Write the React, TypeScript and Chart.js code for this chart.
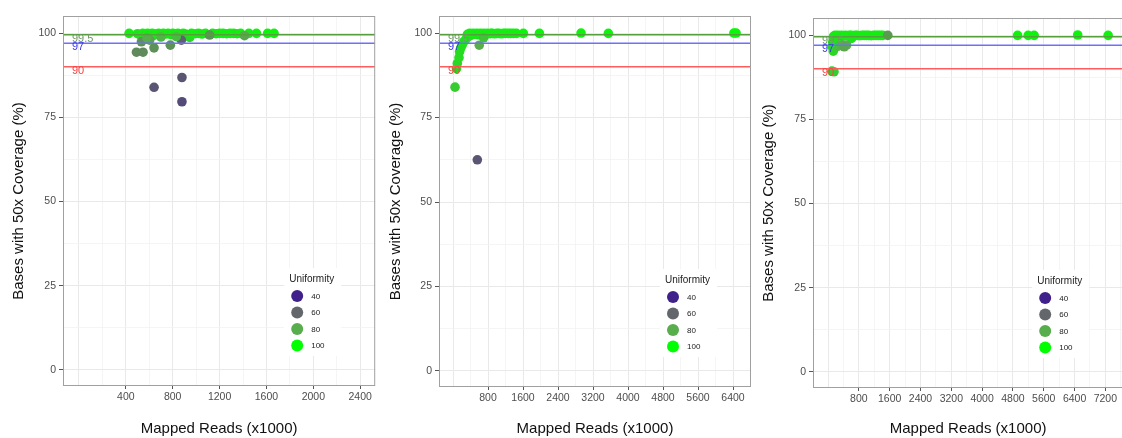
import React, { useEffect, useRef } from 'react';
import { Chart, registerables } from 'chart.js';

Chart.register(...registerables);
Chart.defaults.font.family = "'Liberation Sans', Arial, Helvetica, sans-serif";

// ---------- Data ----------
// Panel 1
const p1Reads = [428, 500, 520, 545, 565, 585, 600, 625, 640, 660, 680, 700, 720, 740, 760, 785, 800, 820, 845, 865, 890, 910, 945, 960, 990, 1020, 1050, 1080, 1140, 1170, 1200, 1230, 1260, 1290, 1320, 1350, 1380, 1450, 1515, 1610, 1665,
  533, 604, 491, 547, 641, 780, 874, 1115, 1413, 700, 580, 830,
  641, 879, 879];
const p1Coverage = [99.9, 99.8, 99.5, 99.9, 99.2, 99.9, 99.6, 99.9, 99.3, 99.8, 99.9, 99.6, 99.9, 99.7, 99.9, 99.5, 99.9, 99.8, 99.9, 99.6, 99.9, 99.7, 98.7, 99.9, 99.8, 99.9, 99.7, 99.9, 99.9, 99.8, 99.9, 99.9, 99.8, 99.9, 99.9, 99.8, 99.9, 99.9, 99.9, 99.9, 99.9,
  97.4, 97.9, 94.3, 94.3, 95.6, 96.4, 97.9, 99.4, 99.2, 98.8, 98.6, 98.9,
  83.9, 86.8, 79.6];
const p1Uniformity = [95, 93, 92, 95, 90, 96, 94, 95, 91, 95, 96, 93, 95, 94, 96, 93, 95, 94, 96, 94, 95, 93, 90, 95, 96, 95, 94, 96, 95, 94, 96, 95, 95, 96, 95, 94, 96, 95, 97, 97, 97,
  72, 76, 70, 70, 72, 72, 58, 72, 78, 82, 80, 84,
  55, 55, 52];

// Panel 2
const p2Reads = [46, 80, 98, 137, 150, 175, 210, 250, 300, 360,
  330, 380, 420, 460, 500, 540, 580, 620, 660, 700, 740, 780, 820, 860, 900, 950, 1000, 1050, 1100, 1150, 1200, 1260, 1320, 1380, 1450, 1608, 1975, 2926, 3550, 6420, 6470,
  600, 700, 556];
const p2Coverage = [84.0, 89.5, 91.0, 92.7, 94.5, 95.5, 96.5, 97.5, 98.3, 99.0,
  99.6, 99.9, 99.4, 99.9, 99.7, 99.9, 99.5, 99.9, 99.8, 99.9, 99.7, 99.9, 99.8, 99.9, 99.9, 99.8, 99.9, 99.9, 99.8, 99.9, 99.9, 99.9, 99.9, 99.9, 99.9, 99.9, 99.9, 100, 99.9, 100, 100,
  96.4, 98.6, 62.5];
const p2Uniformity = [88, 90, 90, 91, 91, 92, 92, 93, 94, 95,
  94, 95, 93, 96, 95, 95, 94, 96, 95, 95, 94, 96, 95, 95, 96, 95, 96, 95, 95, 96, 95, 96, 95, 96, 96, 97, 97, 97, 97, 98, 98,
  80, 85, 55];

// Panel 3
const p3Reads = [140, 180, 220, 260, 300, 350, 400, 450, 500, 550, 600, 650, 700, 760, 820, 880, 940, 1000, 1060, 1120, 1180, 1240, 1300, 1360, 1420, 1551,
  136, 110, 170, 230, 300, 610, 265, 394, 480, 420, 120, 100, 154,
  4921, 5196, 5350, 6482, 7272];
const p3Coverage = [99.6, 99.9, 99.7, 99.9, 99.8, 99.9, 99.7, 99.9, 99.8, 99.9, 99.9, 99.8, 99.9, 99.9, 99.8, 99.9, 99.9, 99.9, 99.9, 99.8, 99.9, 99.9, 99.9, 99.9, 99.9, 99.9,
  95.2, 96.5, 98.2, 98.8, 98.5, 99.0, 96.7, 96.9, 97.0, 96.5, 97.8, 89.3, 89.1,
  99.9, 99.9, 99.9, 100, 99.9];
const p3Uniformity = [94, 95, 95, 96, 95, 95, 94, 96, 95, 95, 96, 95, 95, 96, 95, 95, 96, 95, 96, 95, 95, 96, 95, 96, 95, 74,
  90, 90, 92, 93, 93, 94, 82, 80, 80, 78, 92, 90, 88,
  97, 97, 97, 97, 97];

// Reference lines
const refValues = [99.5, 97, 90];
const refLabels = ['99.5', '97', '90'];
const refLineColors = ['#55a03c', '#6f6fff', '#ff5c5c'];
const refTextColors = ['#6f9a60', '#3c3cec', '#ff4040'];

// Legend
const legendValues = [40, 60, 80, 100];
const legendColors = ['#40208a', '#63676b', '#58ad4c', '#00ff00'];

// Ticks
const yGridValues = [0, 12.5, 25, 37.5, 50, 62.5, 75, 87.5, 100];
const yTickLabels = [0, 25, 50, 75, 100];
const p1XTickLabels = [400, 800, 1200, 1600, 2000, 2400];
const p2XTickLabels = [800, 1600, 2400, 3200, 4000, 4800, 5600, 6400];
const p3XTickLabels = [800, 1600, 2400, 3200, 4000, 4800, 5600, 6400, 7200];

const X_TITLE = 'Mapped Reads (x1000)';
const Y_TITLE = 'Bases with 50x Coverage (%)';
const LEGEND_TITLE = 'Uniformity';

// ---------- Helpers ----------
function hexToRgb(h: string): number[] {
  const s = h.replace('#', '');
  return [parseInt(s.slice(0, 2), 16), parseInt(s.slice(2, 4), 16), parseInt(s.slice(4, 6), 16)];
}

function uniformityColor(u: number): string {
  const lo = legendValues[0];
  const hi = legendValues[legendValues.length - 1];
  const v = Math.max(lo, Math.min(hi, u));
  for (let i = 0; i < legendValues.length - 1; i++) {
    if (v <= legendValues[i + 1]) {
      const t = (v - legendValues[i]) / (legendValues[i + 1] - legendValues[i]);
      const a = hexToRgb(legendColors[i]);
      const b = hexToRgb(legendColors[i + 1]);
      const c = a.map((ai, k) => Math.round(ai + (b[k] - ai) * t));
      return `rgb(${c[0]},${c[1]},${c[2]})`;
    }
  }
  return legendColors[legendColors.length - 1];
}

type PanelCfg = {
  left: number; width: number; height: number;
  reads: number[]; coverage: number[]; uniformity: number[];
  xMin: number; xMax: number; xGridStep: number; xGridMax: number; xLabels: number[];
  padTop: number; padRight: number; yAxisW: number; xAxisH: number;
  yTitlePad: number; xTitlePad: number;
};

const panels: PanelCfg[] = [
  { left: 0, width: 380, height: 438, reads: p1Reads, coverage: p1Coverage, uniformity: p1Uniformity,
    xMin: -136, xMax: 2528, xGridStep: 200, xGridMax: 2400, xLabels: p1XTickLabels,
    padTop: 16, padRight: 3, yAxisW: 63, xAxisH: 52, yTitlePad: 10, xTitlePad: 0 },
  { left: 380, width: 376, height: 438, reads: p2Reads, coverage: p2Coverage, uniformity: p2Uniformity,
    xMin: -320, xMax: 6811, xGridStep: 400, xGridMax: 6800, xLabels: p2XTickLabels,
    padTop: 16, padRight: 5, yAxisW: 59, xAxisH: 51, yTitlePad: 7, xTitlePad: 0 },
  { left: 756, width: 372, height: 438, reads: p3Reads, coverage: p3Coverage, uniformity: p3Uniformity,
    xMin: -391, xMax: 7663, xGridStep: 400, xGridMax: 7600, xLabels: p3XTickLabels,
    padTop: 18, padRight: 2, yAxisW: 57, xAxisH: 50, yTitlePad: 4, xTitlePad: 0 },
];

const overlayPlugin = {
  id: 'overlay',
  afterDatasetsDraw(chart: any) {
    const { ctx, chartArea: a } = chart;
    const yScale = chart.scales.y;
    ctx.save();
    // reference labels
    ctx.font = "11px 'Liberation Sans', Arial, sans-serif";
    ctx.textAlign = 'left';
    ctx.textBaseline = 'middle';
    refValues.forEach((v, i) => {
      const py = yScale.getPixelForValue(v);
      ctx.fillStyle = refTextColors[i];
      ctx.fillText(refLabels[i], a.left + 9, py + 4);
    });
    // legend
    const R = a.right;
    const B = a.bottom;
    ctx.fillStyle = '#ffffff';
    ctx.fillRect(R - 91, B - 118, 57, 88);
    ctx.fillStyle = '#222222';
    ctx.font = "10px 'Liberation Sans', Arial, sans-serif";
    ctx.fillText(LEGEND_TITLE, R - 86, B - 107);
    ctx.font = "8px 'Liberation Sans', Arial, sans-serif";
    legendValues.forEach((v, i) => {
      const cy = B - 90 + i * 16.5;
      ctx.beginPath();
      ctx.arc(R - 78, cy, 6, 0, Math.PI * 2);
      ctx.fillStyle = legendColors[i];
      ctx.fill();
      ctx.fillStyle = '#222222';
      ctx.fillText(String(v), R - 64, cy + 0.5);
    });
    ctx.restore();
  },
  afterDraw(chart: any) {
    const { ctx, chartArea: a } = chart;
    ctx.save();
    ctx.strokeStyle = '#a0a0a0';
    ctx.lineWidth = 1;
    ctx.strokeRect(a.left + 0.5, a.top + 0.5, a.right - a.left - 1, a.bottom - a.top - 1);
    ctx.restore();
  },
};

function Panel({ cfg }: { cfg: PanelCfg }) {
  const ref = useRef<HTMLCanvasElement | null>(null);
  useEffect(() => {
    if (!ref.current) return;
    const xGrid: number[] = [];
    for (let v = 0; v <= cfg.xGridMax; v += cfg.xGridStep) xGrid.push(v);
    const majorStep = cfg.xLabels[1] - cfg.xLabels[0];
    const points = cfg.reads.map((x, i) => ({ x, y: cfg.coverage[i] }));
    const chart = new Chart(ref.current, {
      type: 'scatter',
      data: {
        datasets: [
          ...refValues.map((v, i) => ({
            data: [{ x: cfg.xMin, y: v }, { x: cfg.xMax, y: v }],
            showLine: true,
            borderColor: refLineColors[i],
            borderWidth: 1.5,
            pointRadius: 0,
            pointHoverRadius: 0,
            order: 0,
          })),
          {
            data: points,
            pointBackgroundColor: cfg.uniformity.map(uniformityColor),
            pointBorderWidth: 0,
            pointBorderColor: 'rgba(0,0,0,0)',
            pointRadius: 4.8,
            pointHoverRadius: 4.8,
            order: 1,
          },
        ] as any,
      },
      options: {
        responsive: false,
        animation: false,
        events: [],
        layout: { padding: { top: cfg.padTop, right: cfg.padRight, left: 0, bottom: 0 } },
        plugins: { legend: { display: false }, tooltip: { enabled: false } },
        scales: {
          x: {
            type: 'linear',
            min: cfg.xMin,
            max: cfg.xMax,
            afterBuildTicks: (s: any) => { s.ticks = xGrid.map((value) => ({ value })); },
            afterFit: (s: any) => { s.height = cfg.xAxisH; },
            border: { display: false },
            grid: {
              color: (c: any) => (c.tick && c.tick.value % majorStep === 0 ? '#e9e9e9' : '#f2f2f2'),
              lineWidth: (c: any) => (c.tick && c.tick.value % majorStep === 0 ? 1 : 0.8),
              tickColor: (c: any) => (c.tick && c.tick.value > 0 && c.tick.value % majorStep === 0 ? '#555555' : 'rgba(0,0,0,0)'),
              tickLength: 3,
              drawTicks: true,
            },
            ticks: {
              autoSkip: false,
              maxRotation: 0,
              padding: 2,
              color: '#4d4d4d',
              font: { size: 10.5 },
              callback: (v: any) => (cfg.xLabels.indexOf(Number(v)) >= 0 ? String(v) : ''),
            },
            title: { display: true, text: X_TITLE, color: '#111111', font: { size: 15 }, padding: { top: 0, bottom: cfg.xTitlePad } },
          },
          y: {
            type: 'linear',
            min: -4.75,
            max: 105.05,
            afterBuildTicks: (s: any) => { s.ticks = yGridValues.map((value) => ({ value })); },
            afterFit: (s: any) => { s.width = cfg.yAxisW; },
            border: { display: false },
            grid: {
              color: (c: any) => (c.tick && c.tick.value % 25 === 0 ? '#e9e9e9' : '#f2f2f2'),
              lineWidth: (c: any) => (c.tick && c.tick.value % 25 === 0 ? 1 : 0.8),
              tickColor: (c: any) => (c.tick && c.tick.value % 25 === 0 ? '#555555' : 'rgba(0,0,0,0)'),
              tickLength: 4,
              drawTicks: true,
            },
            ticks: {
              autoSkip: false,
              padding: 3,
              color: '#4d4d4d',
              font: { size: 10.5 },
              callback: (v: any) => (yTickLabels.indexOf(Number(v)) >= 0 ? String(v) : ''),
            },
            title: { display: true, text: Y_TITLE, color: '#111111', font: { size: 15 }, padding: { top: cfg.yTitlePad, bottom: 0 } },
          },
        },
      },
      plugins: [overlayPlugin],
    } as any);
    return () => chart.destroy();
  }, [cfg]);
  return (
    <div style={{ position: 'absolute', left: cfg.left, top: 0, width: cfg.width, height: cfg.height }}>
      <canvas ref={ref} width={cfg.width} height={cfg.height} style={{ width: cfg.width, height: cfg.height, display: 'block' }} />
    </div>
  );
}

export default function App() {
  return (
    <div style={{ position: 'fixed', left: 0, top: 0, width: 1122, height: 438, overflow: 'hidden', background: '#ffffff' }}>
      {panels.map((p, i) => (
        <Panel key={i} cfg={p} />
      ))}
    </div>
  );
}
